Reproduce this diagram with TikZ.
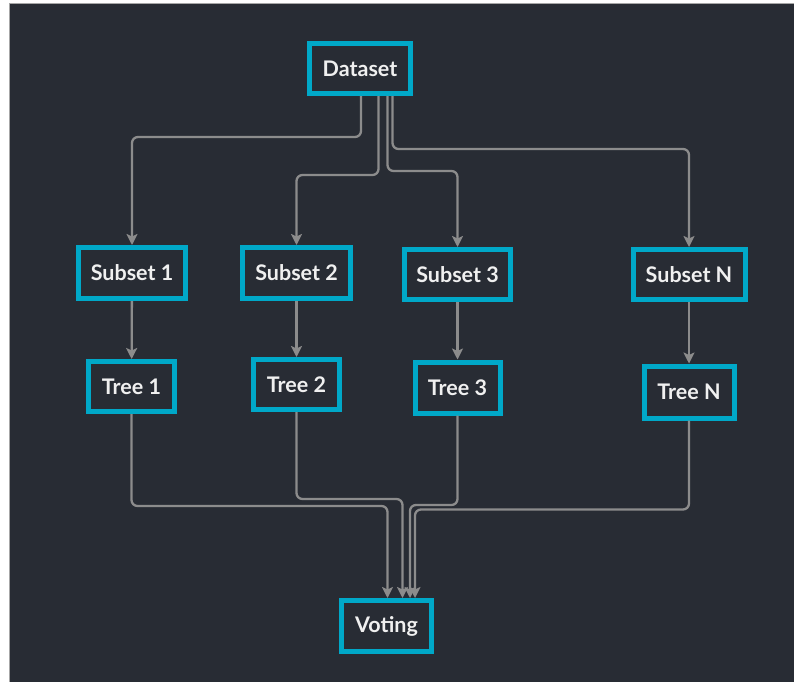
\documentclass[tikz,border=0pt]{standalone}
\usepackage{fontspec}
\setmainfont{Lato}
\usetikzlibrary{arrows.meta}
\definecolor{bgdark}{RGB}{40,44,52}
\definecolor{boxcyan}{RGB}{0,168,200}
\definecolor{linegray}{RGB}{140,140,140}
\definecolor{txtwhite}{RGB}{240,240,240}
\begin{document}
\begin{tikzpicture}[x=1pt,y=-1pt,
  box/.style={draw=boxcyan,line width=5pt,fill=bgdark,text=txtwhite,
    font=\fontsize{21.5}{24}\selectfont\bfseries,inner sep=0pt,anchor=center},
  conn/.style={draw=linegray,line width=2.3pt,rounded corners=6pt,
    -{Stealth[length=11pt,width=11pt,inset=2.5pt]}}]
\useasboundingbox (0,0) rectangle (794,681);
\fill[white] (0,0) rectangle (794,681);
\filldraw[fill=bgdark,draw=gray!70,line width=1pt] (9.5,3.5) rectangle (800,690);

\node[box,minimum width=101pt,minimum height=50pt] (ds) at (360,68.5) {Dataset};
\node[box,minimum width=107pt,minimum height=51pt] (s1) at (132,273) {Subset 1};
\node[box,minimum width=108pt,minimum height=51pt] (s2) at (296.5,273) {Subset 2};
\node[box,minimum width=106pt,minimum height=50pt] (s3) at (457.5,274.5) {Subset 3};
\node[box,minimum width=112pt,minimum height=50pt] (sn) at (689,274.5) {Subset N};
\node[box,minimum width=86pt,minimum height=50pt] (t1) at (131.5,386.5) {Tree 1};
\node[box,minimum width=86pt,minimum height=50pt] (t2) at (296.5,384.5) {Tree 2};
\node[box,minimum width=85pt,minimum height=51pt] (t3) at (457.5,387.5) {Tree 3};
\node[box,minimum width=90pt,minimum height=52pt] (tn) at (689,392) {Tree N};
\node[box,minimum width=90pt,minimum height=51pt] (vo) at (386.5,626) {Voting};

\coordinate (d1) at ([xshift=1pt]ds.south);
\coordinate (d2) at ([xshift=18.5pt]ds.south);
\coordinate (d3) at ([xshift=27.5pt]ds.south);
\coordinate (d4) at ([xshift=32.5pt]ds.south);

\draw[conn] (d1) -- (d1 |- 0,137) -- (s1.north |- 0,137) -- (s1.north);
\draw[conn] (d2) -- (d2 |- 0,175) -- (s2.north |- 0,175) -- (s2.north);
\draw[conn] (d3) -- (d3 |- 0,171) -- (s3.north |- 0,171) -- (s3.north);
\draw[conn] (d4) -- (d4 |- 0,149) -- (sn.north |- 0,149) -- (sn.north);

\draw[conn] (s1) -- (t1);
\draw[conn] (s2) -- (t2);
\draw[conn] (s3) -- (t3);
\draw[conn] (sn.south) -- (tn.north);

\coordinate (v1) at ([xshift=1pt]vo.north);
\coordinate (v2) at ([xshift=16pt]vo.north);
\coordinate (v3) at ([xshift=23.5pt]vo.north);
\coordinate (v4) at ([xshift=28.5pt]vo.north);

\draw[conn] (t1.south) -- (t1.south |- 0,506) -- (v1 |- 0,506) -- (v1);
\draw[conn] (t2.south) -- (t2.south |- 0,499) -- (v2 |- 0,499) -- (v2);
\draw[conn] (t3.south) -- (t3.south |- 0,505) -- (v3 |- 0,505) -- (v3);
\draw[conn] (tn.south) -- (tn.south |- 0,509.5) -- (v4 |- 0,509.5) -- (v4);
\end{tikzpicture}
\end{document}
